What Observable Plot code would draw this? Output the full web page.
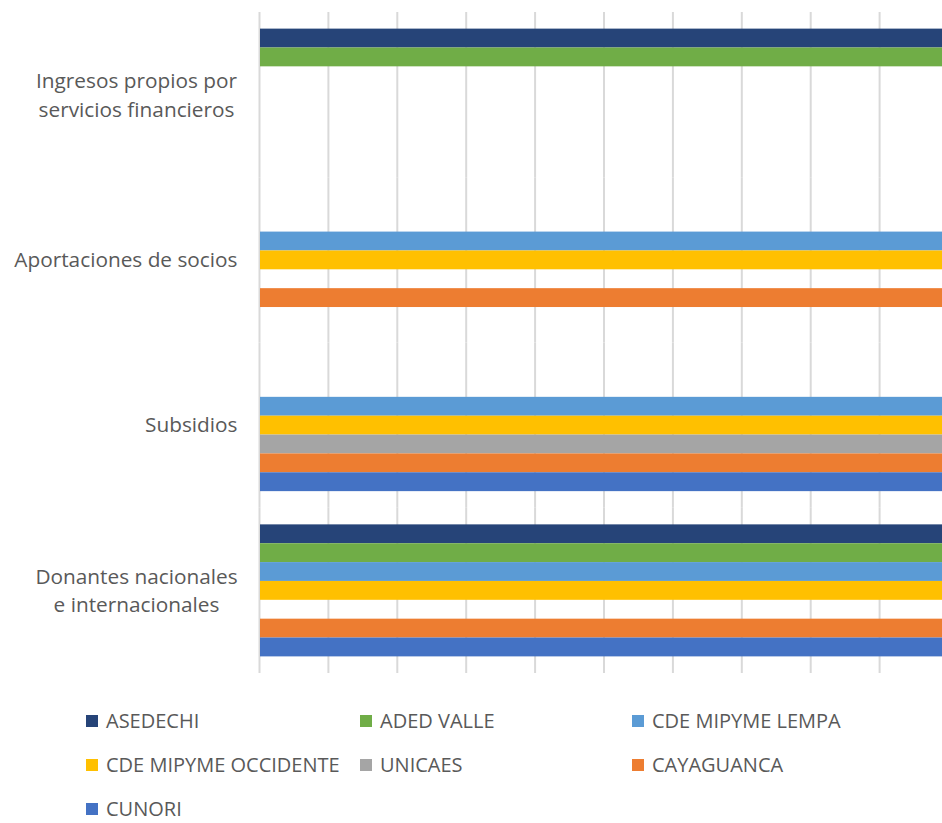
<!DOCTYPE html>
<html>
<head>
<meta charset="utf-8">
<script src="https://cdn.jsdelivr.net/npm/d3@7"></script>
<script src="https://cdn.jsdelivr.net/npm/@observablehq/plot@0.6"></script>
<style>
  html, body { margin: 0; padding: 0; background: #fff; overflow: hidden; }
  #chart svg { overflow: hidden; display: block; }
  #legend {
    display: grid;
    grid-template-columns: 274px 272px 272px;
    grid-auto-rows: 20px;
    row-gap: 24px;
    padding-left: 86px;
    margin-top: 21px;
    font-family: "Open Sans", sans-serif;
    font-size: 20px;
    line-height: 1;
    color: #595959;
  }
  .item { display: flex; align-items: center; white-space: nowrap; height: 20px; }
  .sw { width: 12px; height: 12px; margin-right: 8px; flex: none; }
</style>
</head>
<body>
<div id="chart"></div>
<div id="legend"></div>
<script>
// Categories (top to bottom)
const categories = [
  "Ingresos propios por servicios financieros",
  "Aportaciones de socios",
  "Subsidios",
  "Donantes nacionales e internacionales"
];
const categoryLabels = [
  "Ingresos propios por\nservicios financieros",
  "Aportaciones de socios",
  "Subsidios",
  "Donantes nacionales\ne internacionales"
];
// Series (top to bottom within each group)
const series = ["ASEDECHI", "ADED VALLE", "CDE MIPYME LEMPA", "CDE MIPYME OCCIDENTE", "UNICAES", "CAYAGUANCA", "CUNORI"];
const colors = ["#264478", "#70AD47", "#5B9BD5", "#FFC000", "#A5A5A5", "#ED7D31", "#4472C4"];
// Values per series, in category order (1 = present, 0 = absent)
const asedechi   = [1, 0, 0, 1];
const adedValle  = [1, 0, 0, 1];
const cdeLempa   = [0, 1, 1, 1];
const cdeOccid   = [0, 1, 1, 1];
const unicaes    = [0, 0, 1, 0];
const cayaguanca = [0, 1, 1, 1];
const cunori     = [0, 0, 1, 1];
const xTicks = [0, 0.1, 0.2, 0.3, 0.4, 0.5, 0.6, 0.7, 0.8, 0.9];

const seriesValues = [asedechi, adedValle, cdeLempa, cdeOccid, unicaes, cayaguanca, cunori];
const data = [];
series.forEach((s, i) => {
  categories.forEach((c, j) => {
    const v = seriesValues[i][j];
    if (v > 0) data.push({category: c, series: s, value: v});
  });
});

const labelRows = categories.map((c, i) => ({category: c, label: categoryLabels[i], multi: categoryLabels[i].includes("\n")}));

const chart = Plot.plot({
  width: 942,
  height: 690,
  marginTop: 12,
  marginBottom: 17,
  marginLeft: 259,
  marginRight: 0,
  style: {fontFamily: "'Open Sans', sans-serif", color: "#595959"},
  x: {domain: [0, 1], range: [259, 948], axis: null},
  y: {domain: series, paddingInner: 0, paddingOuter: 0.881, round: false, axis: null},
  fy: {domain: categories, paddingInner: 0, paddingOuter: 0, round: false, axis: null, label: null},
  color: {domain: series, range: colors},
  marks: [
    Plot.ruleX(xTicks, {x: d => d, stroke: "#d9d9d9", strokeWidth: 2}),
    Plot.barX(data, {fy: "category", y: "series", x1: 0, x2: "value", fill: "series", insetLeft: 1}),
    Plot.text(labelRows.filter(d => !d.multi), {
      fy: "category", text: "label", frameAnchor: "left", textAnchor: "end", dx: -22,
      fontSize: 20.8, fill: "#595959"
    }),
    Plot.text(labelRows.filter(d => d.multi), {
      fy: "category", text: "label", frameAnchor: "left", textAnchor: "middle", dx: -123, dy: -2,
      fontSize: 20.8, lineHeight: 1.38, fill: "#595959"
    })
  ]
});
document.getElementById("chart").appendChild(chart);

const legend = document.getElementById("legend");
series.forEach((s, i) => {
  const item = document.createElement("div");
  item.className = "item";
  const sw = document.createElement("span");
  sw.className = "sw";
  sw.style.background = colors[i];
  const t = document.createElement("span");
  t.textContent = s;
  item.appendChild(sw);
  item.appendChild(t);
  legend.appendChild(item);
});
</script>
</body>
</html>
